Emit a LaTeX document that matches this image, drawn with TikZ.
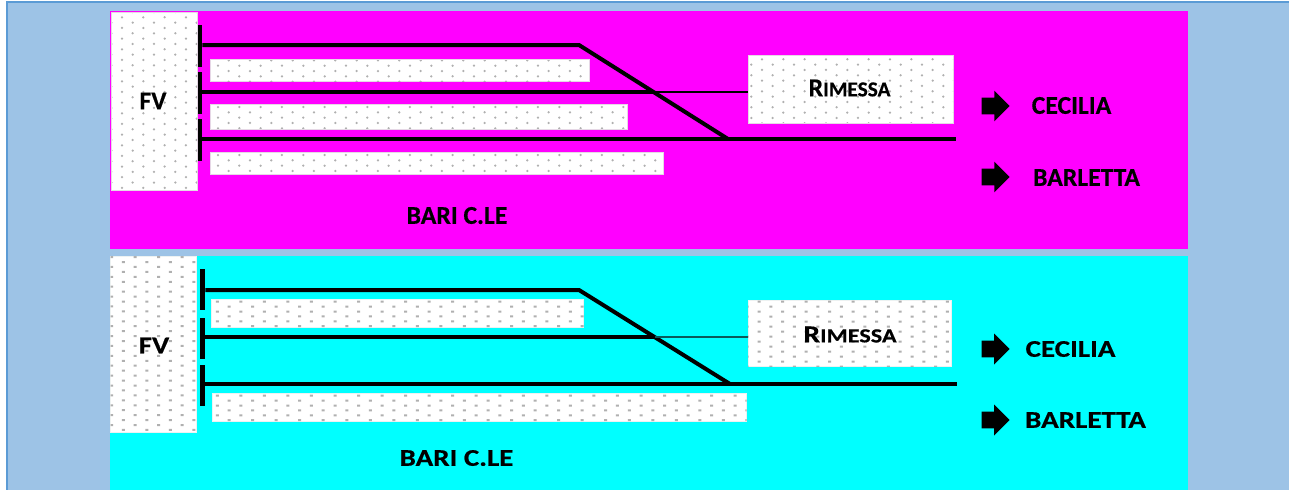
\documentclass[tikz,border=0pt]{standalone}
\usepackage{fontspec}
\setmainfont{Carlito}[BoldFeatures={FakeBold=0.4}]
\usetikzlibrary{fit,shapes.arrows}
\definecolor{panelblue}{HTML}{9DC3E6}
\definecolor{edgeblue}{HTML}{5B9BD5}
\definecolor{dotgray}{HTML}{B0B0B0}
\definecolor{puremagenta}{HTML}{FF00FF}
\definecolor{purecyan}{HTML}{00FFFF}
\definecolor{edgepink}{HTML}{E6D8E6}
\definecolor{edgepale}{HTML}{EDF2F2}
\definecolor{thinteal}{HTML}{0A5A5A}
\newcommand{\pxfont}[1]{\fontsize{\the\dimexpr#1pt*3/4\relax}{\the\dimexpr#1pt*3/4\relax}\selectfont}
\newcommand{\dotsroundin}[9]{%
  \begin{scope}
    \clip (#1,#2) rectangle (#3,#4);
    \fill[dotgray] \foreach \r in {-1,...,#9} {
      \foreach \c in {-1,...,\ncol} {
        ({#5+21.33*(\c+0.5*mod(abs(\r),2))},{#6+#8*\r}) circle[radius=1.25*0.75pt]
      }
    };
  \end{scope}}
\newcommand{\dotssquarein}[9]{%
  \begin{scope}
    \clip (#1,#2) rectangle (#3,#4);
    \fill[dotgray] \foreach \r in {-1,...,#9} {
      \foreach \c in {-1,...,\ncol} {
        ({#5+23.54*(\c+0.5*mod(abs(\r),2))-1.5},{#6+#8*\r-1}) rectangle ++(3,2)
      }
    };
  \end{scope}}
\tikzset{
  boxtop/.style={draw=edgepink,line width=0.75pt,fill=white,inner sep=0pt},
  boxbot/.style={draw=edgepale,line width=0.75pt,fill=white,inner sep=0pt},
  thick rail/.style={line width=3pt,line cap=butt,line join=miter},
  thin rail/.style={line width=1.1pt},
  bar/.style={fill=black,inner sep=0pt},
  arrowmark/.style={single arrow,fill=black,inner sep=0pt,minimum width=22.5pt,
    minimum height=21pt,single arrow head extend=5.25pt,anchor=tip},
  labeltop/.style={inner sep=0pt,font=\bfseries\pxfont{25.7}},
  labelbot/.style={inner sep=0pt,font=\bfseries\pxfont{24},xscale=1.21,transform shape},
}
\newcommand{\shaft}{\rule{0pt}{12pt}}
\begin{document}
\begin{tikzpicture}[x=0.75pt,y=-0.75pt]
\useasboundingbox (0,0) rectangle (1289,490);
\fill[edgeblue] (6,1) rectangle (1289,490);
\fill[panelblue] (8,3) rectangle (1289,490);
\fill[puremagenta] (110,11) rectangle (1188,249);
\fill[purecyan] (110,255.5) rectangle (1188,490);

% --- top panel ---
\node[boxtop,fit={(111.5,12.5) (197.5,190)}] (fvT) {};
\node[boxtop,fit={(210.5,59.5) (589.5,81.5)}] (s1T) {};
\node[boxtop,fit={(210.5,104.5) (627.5,129)}] (s2T) {};
\node[boxtop,fit={(210.5,152.5) (663.5,174.5)}] (s3T) {};
\node[boxtop,fit={(748.5,55.5) (953.5,123)}] (remT) {};
\def\ncol{5}\dotsroundin{112}{13}{197}{189.5}{122}{17.33}{0}{5.33}{34}
\def\ncol{19}\dotsroundin{211}{60}{589}{81}{218}{65.7}{0}{5.33}{4}
\def\ncol{20}\dotsroundin{211}{105}{627}{128.5}{218}{107}{0}{5.33}{5}
\def\ncol{22}\dotsroundin{211}{153}{663}{174}{218}{155}{0}{5.33}{4}
\def\ncol{11}\dotsroundin{749}{56}{953}{122.5}{762}{59.3}{0}{5.33}{13}

\node[bar,fit={(198,25) (202,67)}] (b1T) {};
\node[bar,fit={(198,72) (202,114)}] (b2T) {};
\node[bar,fit={(198,119) (202,161)}] (b3T) {};
\coordinate (k1T) at (579,45);
\coordinate (j3T) at (728,139);
\coordinate (j2T) at (653,92);
\coordinate (e3T) at (956,139);
\draw[thick rail] (b1T.east |- k1T) -- (k1T) -- (j3T);
\draw[thick rail] (b2T.east |- j2T) -- (j2T);
\draw[thick rail] (b3T.east |- j3T) -- (e3T);
\draw[thin rail] (j2T) -- (remT.west |- j2T);

\node[labeltop] (fvTt) at (153,101) {FV};
\node[labeltop,font=\bfseries\pxfont{21.3}] (remTt) at (849.5,88) {{\pxfont{26}R}IMESSA};
\node[labeltop] (cecT) at (1071.5,105.5) {CECILIA};
\node[labeltop] (barT) at (1086.5,177.5) {BARLETTA};
\node[labeltop] (bariT) at (457,215.5) {BARI C.LE};
\node[arrowmark] (a1T) at (1010,106) {\shaft};
\node[arrowmark] (a2T) at (1010,177) {\shaft};

% --- bottom panel ---
\node[boxbot,fit={(110.5,256.5) (196.5,432)}] (fvB) {};
\node[boxbot,fit={(211.5,299.5) (583.5,327.5)}] (s1B) {};
\node[boxbot,fit={(212.5,393.5) (746.5,421.5)}] (s2B) {};
\node[boxbot,fit={(748,300.5) (951.5,366.5)}] (remB) {};
\def\ncol{5}\dotssquarein{110.5}{256.5}{196.5}{432}{123.3}{262}{0}{4.94}{36}
\def\ncol{17}\dotssquarein{211.5}{299.5}{583.5}{327.5}{217.3}{301.7}{0}{4.9}{6}
\def\ncol{24}\dotssquarein{212.5}{393.5}{746.5}{421.5}{217.3}{395.7}{0}{4.9}{6}
\def\ncol{10}\dotssquarein{748}{300.5}{951.5}{366.5}{759}{301.7}{0}{5}{14}

\node[bar,fit={(200,269) (205,310)}] (b1B) {};
\node[bar,fit={(200,318) (205,359)}] (b2B) {};
\node[bar,fit={(200,365) (205,406)}] (b3B) {};
\coordinate (k1B) at (579,290);
\coordinate (j3B) at (730,384);
\coordinate (j2B) at (655,337);
\coordinate (e3B) at (957,384);
\draw[thick rail] (b1B.east |- k1B) -- (k1B) -- (j3B);
\draw[thick rail] (b2B.east |- j2B) -- (j2B);
\draw[thick rail] (b3B.east |- j3B) -- (e3B);
\draw[thin rail,draw=thinteal] (j2B) -- (remB.west |- j2B);

\node[labelbot] (fvBt) at (154,345.5) {FV};
\node[labelbot,font=\bfseries\pxfont{20}] (remBt) at (850,334.5) {{\pxfont{24.5}R}IMESSA};
\node[labelbot] (cecB) at (1070.5,349) {CECILIA};
\node[labelbot] (barB) at (1085.5,420) {BARLETTA};
\node[labelbot] (bariB) at (456.5,458) {BARI C.LE};
\node[arrowmark,minimum width=23.25pt] (a1B) at (1010,349) {\shaft};
\node[arrowmark,minimum width=23.25pt] (a2B) at (1010,420) {\shaft};
\end{tikzpicture}
\end{document}
